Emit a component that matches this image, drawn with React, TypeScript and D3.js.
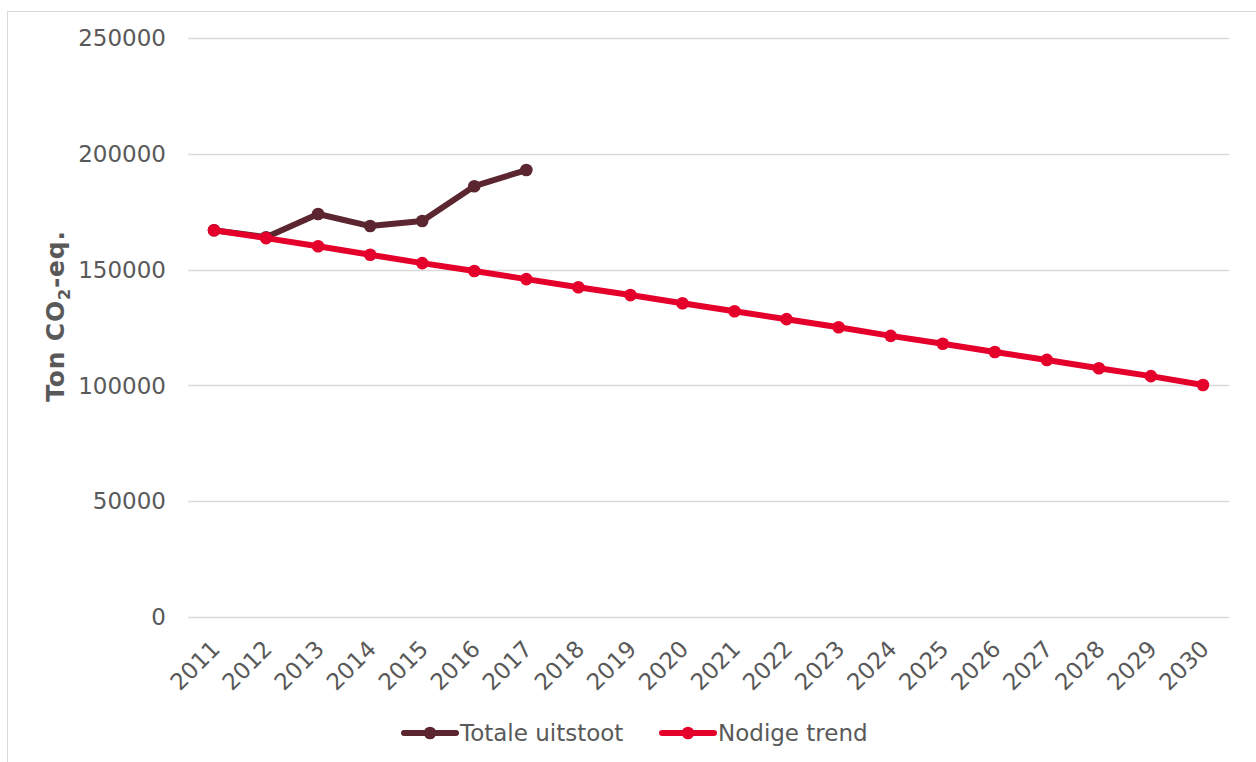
import React from "react";
import * as d3 from "d3";

const years = ["2011","2012","2013","2014","2015","2016","2017","2018","2019","2020","2021","2022","2023","2024","2025","2026","2027","2028","2029","2030"];
const totaleUitstoot = [167000, 164000, 174000, 168800, 171000, 186000, 193000];
const nodigeTrend = [167000, 163600, 160100, 156400, 152800, 149400, 145900, 142400, 139000, 135500, 132000, 128600, 125100, 121400, 118000, 114400, 111000, 107400, 104000, 100200];
const yTicks = [0, 50000, 100000, 150000, 200000, 250000];
const seriesNames = ["Totale uitstoot", "Nodige trend"];
const seriesColors = ["#5B2630", "#E4002B"];

const W = 1256, H = 762;
const left = 188, right = 1229, top = 38, bottom = 617;
const FONT = "'DejaVu Sans', Verdana, sans-serif";
const FS = 23;

export default function App() {
  const x = d3.scaleBand().domain(years).range([left, right]);
  const y = d3.scaleLinear().domain([0, 250000]).range([bottom, top]);
  const cx = (i: number) => (x(years[i]) as number) + x.bandwidth() / 2;
  const line = d3.line<number>().x((_, i) => cx(i)).y((d) => y(d));
  const series = [totaleUitstoot, nodigeTrend];
  const legendItems = [
    { x: 404, tx: 460 },
    { x: 662, tx: 718 },
  ];
  return (
    <svg width={W} height={H} style={{ position: "absolute", left: 0, top: 0, background: "#fff" }} fontFamily={FONT}>
      <rect x={7.5} y={11.5} width={W + 10} height={H + 10} fill="none" stroke="#d9d9d9" strokeWidth={1} />
      {yTicks.map((t) => (
        <g key={t}>
          <line x1={left} x2={right} y1={Math.round(y(t)) + 0.5} y2={Math.round(y(t)) + 0.5} stroke="#d9d9d9" strokeWidth={1.3} />
          <text x={166} y={y(t)} dy="0.36em" textAnchor="end" fontSize={FS} fill="#595959">{t}</text>
        </g>
      ))}
      {years.map((yr, i) => (
        <text key={yr} transform={`translate(${cx(i) - 4},${639}) rotate(-45)`} textAnchor="end" dy="0.7em" fontSize={FS} fill="#595959">{yr}</text>
      ))}
      <text transform={`translate(64,${316}) rotate(-90)`} textAnchor="middle" fontSize={25} fontWeight="bold" letterSpacing={0.8} fill="#595959">
        Ton CO<tspan fontSize={16} dy="6">2</tspan><tspan dy="-6">-eq.</tspan>
      </text>
      {series.map((s, k) => (
        <g key={k}>
          <path d={line(s) as string} fill="none" stroke={seriesColors[k]} strokeWidth={6} strokeLinejoin="round" strokeLinecap="round" />
          {s.map((v, i) => (
            <circle key={i} cx={cx(i)} cy={y(v)} r={6.3} fill={seriesColors[k]} />
          ))}
        </g>
      ))}
      {seriesNames.map((n, k) => (
        <g key={n}>
          <line x1={legendItems[k].x} x2={legendItems[k].x + 52} y1={733} y2={733} stroke={seriesColors[k]} strokeWidth={6} strokeLinecap="round" />
          <circle cx={legendItems[k].x + 26} cy={733} r={6.3} fill={seriesColors[k]} />
          <text x={legendItems[k].tx} y={733} dy="0.36em" fontSize={FS} fill="#595959">{n}</text>
        </g>
      ))}
    </svg>
  );
}
